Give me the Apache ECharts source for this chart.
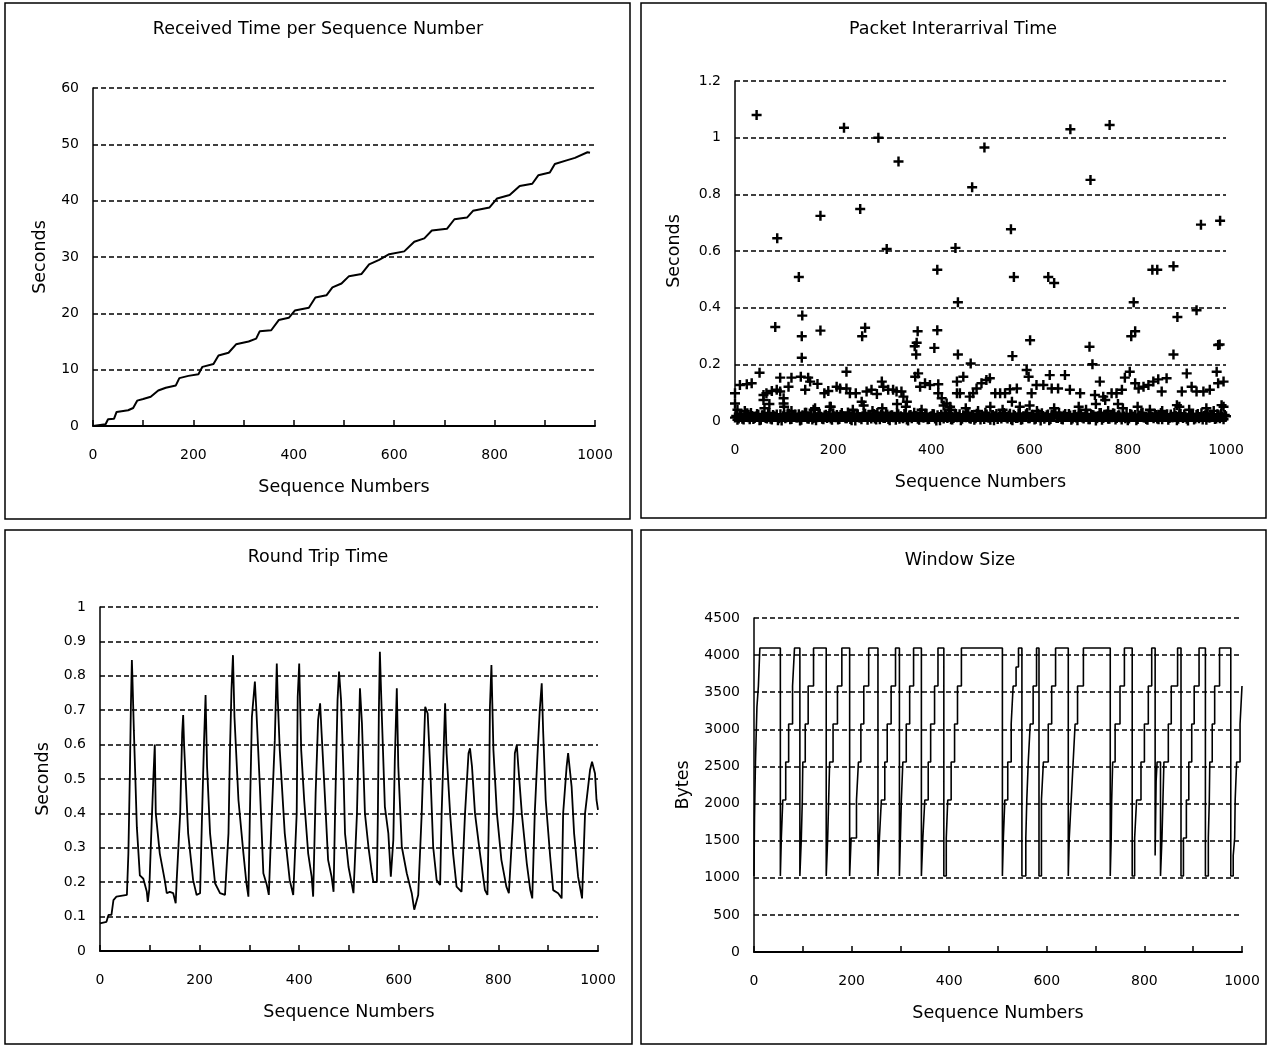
<!DOCTYPE html>
<html><head><meta charset="utf-8">
<script src="https://cdn.jsdelivr.net/npm/echarts@6/dist/echarts.min.js"></script>
<style>html,body{margin:0;padding:0;background:#fff}#c{width:1269px;height:1046px}</style>
</head><body><div id="c"></div>
<script>
// ---------- DATA ----------
const titles = ['Received Time per Sequence Number','Packet Interarrival Time','Round Trip Time','Window Size'];
const xName = 'Sequence Numbers';
const yNames = ['Seconds','Seconds','Seconds','Bytes'];

// Panel 1: received time (seq, seconds)
const recvPoints = [[0,0],[25,0.3],[30,1.2],[42,1.3],[47,2.5],[70,2.8],[80,3.2],[88,4.5],[100,4.8],[115,5.2],[130,6.3],[145,6.8],[165,7.2],[172,8.5],[190,8.9],[210,9.2],[218,10.5],[240,11],[250,12.5],[270,13],[285,14.5],[310,15],[325,15.5],[332,16.8],[355,17],[370,18.8],[390,19.2],[402,20.5],[430,21],[443,22.8],[465,23.2],[477,24.6],[495,25.3],[510,26.6],[535,27],[550,28.7],[570,29.5],[590,30.5],[620,31],[640,32.7],[660,33.3],[675,34.7],[705,35],[720,36.7],[745,37],[757,38.2],[790,38.8],[805,40.4],[830,41],[850,42.6],[875,43],[887,44.5],[910,45],[920,46.5],[945,47.2],[960,47.6],[985,48.6],[990,48.5]];

// Panel 2: interarrival times
const IAT_LOW_STEP = 5;       // sequence spacing of the dense low band
const IAT_LOW2_OFFSET = 2.5;  // second low band interleaved between the first
const iatLow = [0.012,0.004,0.022,0.008,0.015,0.027,0.006,0.018,0.011,0.025,0.003,0.02,0.014,0.009,0.028,0.005,0.017,0.023,0.01,0.002,0.021,0.013,0.026,0.007,0.019,0.012,0.024,0.004,0.016,0.029,0.008,0.02,0.011,0.003,0.025,0.015,0.006,0.022,0.018,0.009,0.027,0.013,0.005,0.021,0.016,0.01,0.03,0.007,0.019,0.002,0.024,0.012,0.017,0.026,0.004,0.014,0.022,0.009,0.028,0.006,0.018,0.011,0.023,0.003,0.02,0.015,0.027,0.008,0.013,0.025,0.005,0.019,0.01,0.029,0.016,0.004,0.021,0.012,0.026,0.007,0.017,0.024,0.002,0.014,0.022,0.009,0.018,0.028,0.006,0.011,0.025,0.015,0.003,0.02,0.013,0.027,0.008,0.019,0.01,0.023,0.005,0.016,0.029,0.012,0.004,0.021,0.017,0.007,0.025,0.014,0.02,0.009,0.026,0.003,0.018,0.011,0.024,0.006,0.015,0.028,0.01,0.022,0.005,0.017,0.013,0.027,0.008,0.02,0.003,0.023,0.016,0.011,0.029,0.007,0.019,0.014,0.025,0.004,0.021,0.012,0.018,0.026,0.009,0.015,0.006,0.024,0.02,0.002,0.017,0.028,0.011,0.022,0.008,0.014,0.027,0.005,0.019,0.013,0.023,0.01,0.003,0.025,0.016,0.021,0.007,0.018,0.029,0.012,0.004,0.022,0.015,0.026,0.009,0.02,0.006,0.017,0.024,0.011,0.013,0.028,0.003,0.019,0.014,0.023,0.008,0.016,0.025,0.005,0.021,0.01,0.027,0.018,0.004,0.012,0.022,0.015,0.009,0.02,0.026,0.006,0.017];
const iatLow2 = [0.018,0.009,0.025,0.005,0.02,0.013,0.028,0.007,0.016,0.022,0.004,0.019,0.011,0.026,0.008,0.021,0.014,0.003,0.024,0.017,0.01,0.027,0.006,0.015,0.023,0.012,0.002,0.02,0.029,0.009,0.016,0.005,0.022,0.013,0.026,0.008,0.019,0.011,0.025,0.004,0.017,0.021,0.007,0.028,0.014,0.01,0.024,0.003,0.018,0.023,0.012,0.006,0.027,0.015,0.02,0.009,0.025,0.005,0.016,0.022,0.011,0.029,0.007,0.019,0.013,0.004,0.024,0.017,0.01,0.026,0.002,0.021,0.014,0.018,0.008,0.028,0.012,0.023,0.006,0.015,0.025,0.009,0.02,0.003,0.016,0.027,0.011,0.019,0.005,0.022,0.013,0.024,0.008,0.017,0.029,0.01,0.021,0.004,0.026,0.014,0.018,0.007,0.023,0.012,0.02,0.003,0.025,0.016,0.009,0.028,0.013,0.019,0.006,0.022,0.011,0.027,0.004,0.017,0.024,0.01,0.015,0.021,0.008,0.026,0.002,0.018,0.013,0.023,0.007,0.02,0.029,0.011,0.016,0.005,0.025,0.014,0.019,0.009,0.022,0.003,0.027,0.012,0.017,0.024,0.006,0.021,0.015,0.01,0.028,0.004,0.018,0.023,0.008,0.013,0.026,0.011,0.02,0.005,0.016,0.025,0.009,0.022,0.014,0.003,0.019,0.027,0.012,0.007,0.024,0.017,0.01,0.021,0.006,0.028,0.015,0.02,0.004,0.023,0.013,0.018,0.008,0.026,0.011,0.016,0.002,0.022,0.019,0.009,0.025,0.014,0.005,0.02,0.027,0.012,0.017,0.007,0.024,0.01,0.015,0.021];
const iatLowMid = [[5,0.04],[20,0.035],[60,0.045],[70,0.06],[100,0.05],[115,0.035],[160,0.04],[195,0.05],[240,0.04],[262,0.055],[280,0.035],[300,0.045],[330,0.06],[348,0.05],[380,0.04],[425,0.055],[440,0.04],[470,0.045],[495,0.035],[520,0.05],[545,0.04],[580,0.05],[600,0.055],[615,0.035],[650,0.045],[700,0.05],[715,0.04],[735,0.06],[760,0.035],[780,0.06],[790,0.045],[820,0.05],[845,0.04],[870,0.035],[905,0.05],[925,0.04],[960,0.045],[975,0.035],[995,0.05]];
const iatMid = [[0,0.098],[0,0.062],[10,0.127],[24,0.13],[34,0.133],[50,0.17],[58,0.092],[64,0.098],[58,0.074],[75,0.106],[85,0.11],[92,0.104],[92,0.153],[99,0.08],[99,0.062],[115,0.153],[109,0.121],[134,0.156],[143,0.11],[149,0.153],[153,0.139],[168,0.131],[163,0.045],[182,0.098],[190,0.106],[193,0.05],[207,0.121],[214,0.115],[227,0.174],[227,0.115],[234,0.098],[246,0.098],[258,0.068],[268,0.104],[278,0.11],[289,0.095],[299,0.139],[302,0.121],[312,0.11],[322,0.11],[329,0.104],[339,0.104],[343,0.086],[350,0.068],[367,0.156],[373,0.168],[377,0.121],[387,0.133],[397,0.127],[414,0.13],[414,0.098],[421,0.08],[431,0.062],[438,0.05],[452,0.139],[452,0.098],[465,0.156],[458,0.098],[478,0.086],[485,0.098],[492,0.115],[502,0.133],[512,0.145],[519,0.151],[530,0.098],[540,0.098],[550,0.098],[560,0.112],[564,0.068],[574,0.115],[594,0.18],[598,0.156],[604,0.098],[614,0.127],[628,0.127],[641,0.162],[645,0.115],[658,0.115],[672,0.162],[682,0.11],[703,0.098],[733,0.092],[743,0.139],[750,0.086],[754,0.074],[767,0.098],[777,0.098],[788,0.11],[794,0.153],[804,0.174],[815,0.133],[822,0.115],[832,0.121],[842,0.127],[852,0.139],[862,0.147],[869,0.104],[879,0.151],[900,0.056],[910,0.104],[920,0.168],[930,0.121],[940,0.104],[954,0.104],[967,0.11],[981,0.174],[984,0.133],[995,0.139],[991,0.056]];
const iatHigh = [[44,1.08],[222,1.035],[292,1.0],[333,0.916],[508,0.965],[683,1.03],[763,1.045],[724,0.851],[483,0.825],[255,0.748],[174,0.724],[86,0.645],[562,0.677],[949,0.693],[988,0.707],[309,0.607],[449,0.611],[412,0.534],[130,0.508],[568,0.508],[638,0.508],[650,0.487],[850,0.534],[860,0.534],[893,0.546],[812,0.419],[454,0.419],[940,0.391],[901,0.367],[137,0.372],[136,0.299],[82,0.332],[174,0.319],[259,0.299],[265,0.329],[372,0.317],[412,0.32],[601,0.285],[807,0.299],[815,0.317],[987,0.27],[722,0.262],[406,0.258],[366,0.264],[369,0.235],[370,0.276],[136,0.223],[454,0.235],[565,0.229],[893,0.235],[480,0.203],[728,0.2],[984,0.268]];

// Panel 3: round trip time (seq, seconds)
const rttPoints = [[0,0.08],[13,0.085],[17,0.105],[23,0.105],[27,0.148],[33,0.158],[54,0.163],[57,0.284],[60,0.516],[62,0.71],[64,0.846],[65,0.8],[68,0.642],[74,0.36],[80,0.22],[87,0.21],[94,0.172],[96,0.143],[99,0.18],[102,0.303],[107,0.497],[110,0.6],[112,0.4],[120,0.284],[130,0.206],[134,0.168],[140,0.172],[147,0.168],[152,0.139],[154,0.206],[161,0.4],[165,0.633],[167,0.686],[169,0.594],[177,0.342],[187,0.206],[194,0.163],[201,0.168],[205,0.4],[209,0.613],[212,0.744],[215,0.536],[221,0.342],[231,0.197],[241,0.168],[251,0.163],[258,0.342],[261,0.584],[264,0.759],[267,0.86],[270,0.68],[278,0.439],[288,0.284],[294,0.197],[298,0.158],[301,0.4],[305,0.68],[311,0.783],[314,0.7],[321,0.478],[328,0.226],[335,0.192],[339,0.163],[345,0.4],[351,0.613],[355,0.836],[357,0.73],[361,0.584],[371,0.342],[381,0.206],[388,0.163],[395,0.4],[397,0.739],[400,0.836],[404,0.584],[410,0.439],[418,0.284],[425,0.216],[428,0.158],[433,0.458],[438,0.672],[442,0.72],[445,0.633],[452,0.439],[458,0.265],[465,0.216],[469,0.172],[472,0.4],[477,0.73],[480,0.812],[484,0.73],[489,0.516],[492,0.342],[499,0.245],[509,0.168],[516,0.4],[519,0.584],[522,0.764],[526,0.662],[532,0.4],[539,0.303],[546,0.226],[549,0.2],[556,0.2],[558,0.4],[560,0.7],[562,0.87],[566,0.68],[572,0.42],[579,0.342],[584,0.216],[589,0.323],[592,0.555],[596,0.764],[599,0.536],[606,0.303],[616,0.226],[626,0.168],[631,0.12],[639,0.163],[646,0.4],[653,0.71],[658,0.69],[663,0.536],[669,0.303],[676,0.206],[683,0.192],[686,0.4],[693,0.72],[696,0.575],[703,0.4],[709,0.284],[716,0.187],[726,0.172],[733,0.4],[740,0.575],[743,0.589],[747,0.536],[753,0.4],[763,0.284],[773,0.177],[778,0.163],[781,0.4],[783,0.71],[786,0.831],[790,0.584],[797,0.4],[806,0.265],[816,0.187],[821,0.168],[830,0.4],[833,0.575],[837,0.599],[840,0.536],[847,0.4],[857,0.255],[864,0.177],[868,0.153],[873,0.4],[878,0.555],[883,0.7],[887,0.778],[890,0.633],[895,0.439],[904,0.274],[910,0.177],[920,0.168],[927,0.153],[930,0.4],[937,0.536],[940,0.575],[947,0.478],[952,0.342],[960,0.216],[968,0.153],[974,0.4],[984,0.526],[988,0.55],[994,0.516],[997,0.439],[1000,0.41]];

// Panel 4: window size change points (seq where value becomes bytes)
const winPoints = [[0,1024],[1,1800],[3,2560],[6,3300],[9,3584],[12,4096],[54,1024],[56,1536],[59,2048],[65,2560],[71,3072],[79,3584],[83,4096],[94,1024],[97,1536],[99,2048],[100,2560],[105,3072],[111,3584],[122,4096],[148,1024],[151,1536],[153,2048],[155,2560],[162,3072],[171,3584],[180,4096],[196,1024],[199,1536],[210,2048],[214,2560],[219,3072],[225,3584],[235,4096],[254,1024],[257,1536],[261,2048],[268,2560],[273,3072],[281,3584],[290,4096],[298,1024],[302,2048],[305,2560],[312,3072],[319,3584],[327,4096],[343,1024],[346,1536],[350,2048],[357,2560],[362,3072],[370,3584],[377,4096],[389,1024],[394,1536],[397,2048],[404,2560],[411,3072],[417,3584],[425,4096],[509,1024],[511,1536],[514,2048],[520,2560],[527,3072],[531,3584],[537,3840],[542,4096],[549,1024],[557,1536],[559,2048],[562,2560],[566,3072],[572,3584],[579,4096],[584,1024],[589,2048],[593,2560],[603,3072],[610,3584],[618,4096],[644,1024],[646,1536],[650,2048],[654,2560],[658,3072],[663,3584],[675,4096],[730,1024],[732,1536],[733,2048],[735,2560],[740,3072],[750,3584],[759,4096],[775,1024],[780,1536],[784,2048],[793,2560],[800,3072],[808,3584],[815,4096],[822,1300],[824,2300],[826,2560],[833,1024],[836,1536],[840,2560],[849,3072],[855,3584],[868,4096],[875,1024],[880,1536],[886,2048],[891,2560],[897,3072],[902,3584],[912,4096],[925,1024],[931,1536],[933,2048],[934,2560],[939,3072],[944,3584],[954,4096],[977,1024],[982,1300],[985,1536],[986,2048],[989,2560],[996,3072],[1000,3584]];

// ---------- LAYOUT ----------
const FONT = 'DejaVu Sans';
const grids = [
  {left:93, top:88, width:502, height:338},
  {left:735, top:81, width:491, height:340},
  {left:100, top:607, width:498, height:344},
  {left:754, top:618, width:488, height:334}
];
const yCfg = [
  {min:0, max:60, interval:10, gap:44},
  {min:0, max:1.2, interval:0.2, gap:52},
  {min:0, max:1, interval:0.1, gap:48},
  {min:0, max:4500, interval:500, gap:62}
];
const panels = [
  {x:5, y:3, w:625, h:516, tx:318, ty:29},
  {x:641, y:3, w:625, h:515, tx:953, ty:29},
  {x:5, y:530, w:627, h:514, tx:318, ty:557},
  {x:641, y:530, w:625, h:514, tx:960, ty:560}
];

const xAxes = grids.map((g,i)=>({
  type:'value', gridIndex:i, min:0, max:1000, interval:100,
  name:xName, nameLocation:'middle', nameGap:52,
  nameTextStyle:{fontFamily:FONT, fontSize:17.5, color:'#000'},
  axisLine:{show:true, onZero:false, lineStyle:{color:'#000', width:2}},
  axisTick:{show:true, inside:true, length:6, lineStyle:{color:'#000', width:1.5}},
  axisLabel:{margin:22, fontFamily:FONT, fontSize:14, color:'#000',
    formatter:v=> (v % 200 === 0 ? String(v) : '')},
  splitLine:{show:false}
}));
const yAxes = yCfg.map((c,i)=>({
  type:'value', gridIndex:i, min:c.min, max:c.max, interval:c.interval,
  name:yNames[i], nameLocation:'middle', nameGap:c.gap, nameRotate:90,
  nameTextStyle:{fontFamily:FONT, fontSize:17.5, color:'#000'},
  axisLine:{show:true, lineStyle:{color:'#000', width:1.5}},
  axisTick:{show:false},
  axisLabel:{margin:14, fontFamily:FONT, fontSize:14, color:'#000',
    formatter:v=> String(Math.round(v*1000)/1000)},
  splitLine:{show:true, lineStyle:{color:'#000', width:1.5, type:[5,3]}}
}));

const plus = 'path://M3.4,0h2.2v9h-2.2zM0,3.4h9v2.2h-9z';
const scatterBase = {type:'scatter', xAxisIndex:1, yAxisIndex:1, symbol:plus, symbolSize:10,
  itemStyle:{color:'#000', opacity:1}, silent:true, clip:false};

const graphics = [];
panels.forEach((p,i)=>{
  graphics.push({type:'rect', shape:{x:p.x, y:p.y, width:p.w, height:p.h},
    style:{fill:'none', stroke:'#000', lineWidth:1.5}, silent:true});
  graphics.push({type:'text', x:p.tx, y:p.ty,
    style:{text:titles[i], fill:'#000', font:'17.5px "'+FONT+'"', textAlign:'center', textVerticalAlign:'middle'}, silent:true});
});

const chart = echarts.init(document.getElementById('c'));
chart.setOption({
  animation:false,
  backgroundColor:'#fff',
  grid: grids,
  xAxis: xAxes,
  yAxis: yAxes,
  graphic: graphics,
  series:[
    {type:'line', xAxisIndex:0, yAxisIndex:0, data:recvPoints, showSymbol:false,
      lineStyle:{color:'#000', width:2}},
    Object.assign({}, scatterBase, {data: iatLow.map((v,i)=>[i*IAT_LOW_STEP, v])}),
    Object.assign({}, scatterBase, {data: iatLow2.map((v,i)=>[i*IAT_LOW_STEP+IAT_LOW2_OFFSET, v])}),
    Object.assign({}, scatterBase, {data: iatLowMid}),
    Object.assign({}, scatterBase, {data: iatMid}),
    Object.assign({}, scatterBase, {data: iatHigh}),
    {type:'line', xAxisIndex:2, yAxisIndex:2, data:rttPoints, showSymbol:false,
      lineStyle:{color:'#000', width:1.8}},
    {type:'line', xAxisIndex:3, yAxisIndex:3, data:winPoints, showSymbol:false, step:'end',
      lineStyle:{color:'#000', width:1.6}}
  ]
});
</script></body></html>
